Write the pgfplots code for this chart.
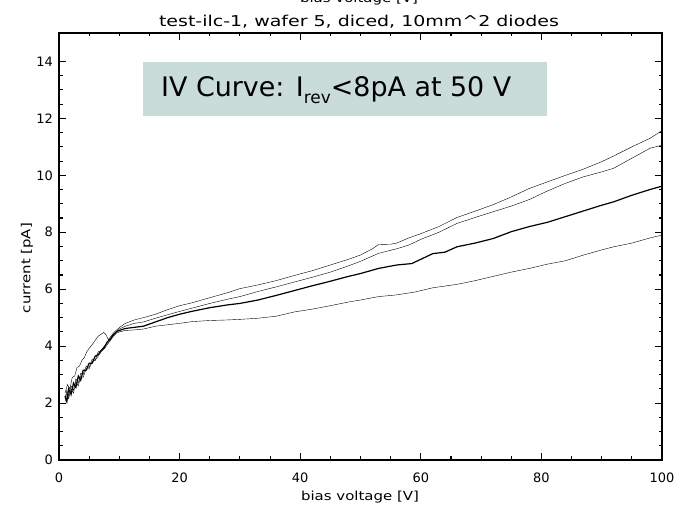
\documentclass[border=0pt]{standalone}
\usepackage{fontspec}
\setmainfont{DejaVu Sans}
\usepackage{graphicx}
\usepackage{pgfplots}
\pgfplotsset{compat=1.18}
\definecolor{boxfill}{RGB}{201,220,218}
\begin{document}
\begin{tikzpicture}[x=1bp,y=1bp]
\path[use as bounding box] (0,0) rectangle (674,510);
\begin{axis}[
  at={(59bp,50bp)}, anchor=south west,
  width=603bp, height=427bp, scale only axis,
  xmin=0, xmax=100, ymin=0, ymax=15,
  xtick={0,20,...,100}, ytick={0,2,...,14},
  minor x tick num=3, minor y tick num=3,
  major tick length=7bp, minor tick length=3.5bp,
  tick style={line width=1.1bp, black},
  axis line style={line width=1.3bp},
  tick label style={font=\fontsize{13}{15}\selectfont, inner sep=0pt},
  xticklabel shift=13bp, yticklabel shift=6bp,
  /pgf/number format/assume math mode=true,
  cycle list={{black, no marks, line width=1.2bp}},
]
% curve A
\addplot coordinates {(1.0,2.35)(1.4,2.65)(1.8,2.5)(2.2,2.9)(2.6,2.95)(3.0,3.25)(3.4,3.3)(3.8,3.5)(4.2,3.6)(4.6,3.8)(5.0,3.92)(5.5,4.05)(6.0,4.2)(6.5,4.35)(7.0,4.42)(7.4,4.48)(7.8,4.4)(8.2,4.22)(8.6,4.35)(9.2,4.5)(10,4.65)(11,4.8)(12.5,4.92)(14,5.0)(16,5.12)(18,5.28)(20,5.42)(22,5.52)(25,5.7)(28,5.88)(30,6.02)(33,6.15)(36,6.3)(39,6.48)(42,6.65)(45,6.85)(48,7.05)(50,7.2)(52,7.42)(53,7.57)(55,7.58)(56,7.62)(58,7.8)(60,7.95)(63,8.2)(66,8.52)(69,8.74)(72,8.97)(75,9.24)(78,9.54)(81,9.77)(84,10.0)(87,10.22)(90,10.48)(92,10.68)(95,11.0)(98,11.3)(100,11.57)};
% curve B
\addplot coordinates {(1.0,2.15)(1.3,2.45)(1.6,2.25)(2.0,2.6)(2.4,2.45)(2.8,2.85)(3.2,2.7)(3.6,3.05)(4.0,3.0)(4.5,3.3)(5.0,3.25)(5.5,3.55)(6.0,3.5)(6.5,3.8)(7.0,3.85)(7.5,4.0)(8.0,4.1)(8.5,4.2)(9.0,4.35)(9.5,4.5)(10,4.6)(11,4.7)(12.5,4.8)(14,4.85)(16,4.98)(18,5.1)(20,5.22)(22,5.33)(25,5.5)(28,5.65)(30,5.74)(33,5.92)(36,6.08)(39,6.25)(42,6.42)(45,6.6)(48,6.82)(50,6.98)(53,7.26)(56,7.42)(58,7.55)(60,7.75)(63,8.0)(66,8.31)(69,8.52)(72,8.72)(75,8.92)(78,9.15)(81,9.45)(84,9.72)(87,9.95)(90,10.12)(92,10.25)(95,10.6)(98,10.95)(100,11.06)};
% curve C
\addplot coordinates {(1.0,2.25)(1.3,2.05)(1.6,2.5)(2.0,2.3)(2.4,2.7)(2.8,2.55)(3.2,2.95)(3.6,2.8)(4.0,3.15)(4.5,3.15)(5.0,3.4)(5.5,3.4)(6.0,3.65)(6.5,3.7)(7.0,3.85)(7.5,3.95)(8.0,4.15)(8.5,4.25)(9.0,4.4)(9.5,4.5)(10,4.55)(11,4.62)(12.5,4.66)(14,4.7)(16,4.85)(18,5.0)(20,5.12)(22,5.22)(25,5.35)(28,5.45)(30,5.5)(33,5.62)(36,5.78)(39,5.95)(42,6.12)(45,6.28)(48,6.45)(50,6.55)(53,6.73)(56,6.85)(58.5,6.9)(60,7.05)(62,7.25)(64,7.3)(66,7.49)(69,7.62)(72,7.78)(75,8.02)(78,8.2)(81,8.35)(84,8.55)(87,8.75)(90,8.95)(92,9.07)(95,9.3)(98,9.5)(100,9.62)};
% curve D
\addplot coordinates {(1.0,2.05)(1.3,2.35)(1.6,2.15)(2.0,2.5)(2.4,2.35)(2.8,2.75)(3.2,2.6)(3.6,2.95)(4.0,2.9)(4.5,3.2)(5.0,3.2)(5.5,3.45)(6.0,3.5)(6.5,3.65)(7.0,3.8)(7.5,3.9)(8.0,4.05)(8.5,4.2)(9.0,4.35)(9.5,4.45)(10,4.5)(11,4.55)(12.5,4.57)(14,4.6)(16,4.7)(18,4.75)(20,4.8)(22,4.86)(25,4.9)(28,4.92)(30,4.94)(33,4.98)(36,5.05)(39,5.2)(42,5.3)(45,5.42)(48,5.55)(50,5.62)(53,5.74)(56,5.8)(59,5.9)(62,6.05)(66,6.17)(69,6.3)(72,6.45)(75,6.6)(78,6.73)(81,6.88)(84,7.0)(87,7.2)(90,7.38)(92,7.49)(95,7.62)(98,7.8)(100,7.9)};
\end{axis}
% annotation box
\fill[boxfill] (143,394) rectangle (547,448.3);
\node[anchor=base west, inner sep=0pt, font=\fontsize{27}{30}\selectfont] at (161,413.3)
  {IV Curve: I\raisebox{-0.25em}{\fontsize{17}{17}\selectfont rev}<8pA at 50 V};
% titles and labels
\node[anchor=base, inner sep=0pt, font=\fontsize{15}{17}\selectfont] at (359,483)
  {\scalebox{1.27}[1]{test-ilc-1, wafer 5, diced, 10mm\textasciicircum 2 diodes}};
\node[anchor=base, inner sep=0pt, font=\fontsize{12.5}{14}\selectfont] at (359,507)
  {\scalebox{1.2}[1]{bias voltage [V]}};
\node[anchor=center, inner sep=0pt, font=\fontsize{12.5}{14}\selectfont] at (360,13)
  {\scalebox{1.2}[1]{bias voltage [V]}};
\node[anchor=center, inner sep=0pt, rotate=90, font=\fontsize{12.5}{14}\selectfont] at (27,242)
  {\scalebox{1.2}[1]{current [pA]}};
\end{tikzpicture}
\end{document}
